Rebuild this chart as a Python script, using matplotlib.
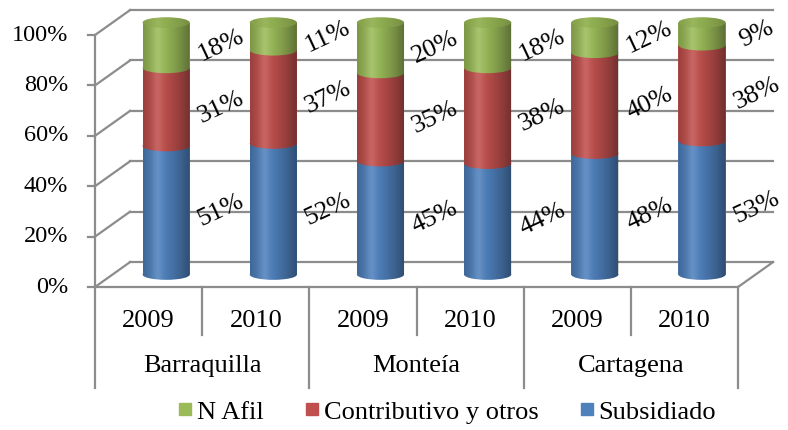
import matplotlib
matplotlib.use("Agg")
import matplotlib.pyplot as plt
import numpy as np
from matplotlib.patches import Ellipse, Rectangle, PathPatch
from matplotlib.path import Path
from matplotlib.lines import Line2D

plt.rcParams["font.family"] = ["Liberation Serif", "DejaVu Serif"]

# data
cities = ["Barraquilla", "Monteía", "Cartagena"]
years = ["2009", "2010", "2009", "2010", "2009", "2010"]
subsidiado = [51, 52, 45, 44, 48, 53]
contributivo = [31, 37, 35, 38, 40, 38]
n_afil = [18, 11, 20, 18, 12, 9]
series_names = ["Subsidiado", "Contributivo y otros", "N Afil"]
series_vals = [subsidiado, contributivo, n_afil]
series_colors = ["#4F81BD", "#C0504D", "#9BBB59"]
top_color = "#92B152"
yticks = [0, 20, 40, 60, 80, 100]

# 3D look: depth shift of the back wall (category units, percent units)
DX, DY = 0.327, 9.9
GRID = "#8C8C8C"
FS_TICK = 17.5
FS = 19

fig = plt.figure(figsize=(7.88, 4.30), dpi=100)
ax = fig.add_axes([0, 0, 1, 1])
ax.set_xlim(-0.8865, 6.466)
ax.set_ylim(-56.75, 113.9)
ax.axis("off")

n = len(years)

# walls: back gridlines, left wall diagonals, floor
for t in yticks:
    ax.plot([0, DX], [t, t + DY], color=GRID, lw=1.6, zorder=1)
    ax.plot([DX, n + DX], [t + DY, t + DY], color=GRID, lw=1.6, zorder=1)
    ax.plot([-0.07, 0], [t, t], color=GRID, lw=1.6, zorder=1)
    ax.text(-0.25, t, f"{t}%", ha="right", va="center", fontsize=FS_TICK)
ax.plot([0, 0], [0, 100], color=GRID, lw=1.6, zorder=1)
ax.plot([0, n], [0, 0], color=GRID, lw=1.6, zorder=1)
ax.plot([n, n + DX], [0, DY], color=GRID, lw=1.6, zorder=1)

# multi-level category axis
for i in range(n + 1):
    bottom = -40 if i % 2 == 0 else -19
    ax.plot([i, i], [0, bottom], color=GRID, lw=1.6, zorder=1)
for i, y in enumerate(years):
    ax.text(i + 0.5, -13.5, y, ha="center", va="center", fontsize=FS)
for j, c in enumerate(cities):
    ax.text(2 * j + 1, -31.5, c, ha="center", va="center", fontsize=FS)

# shading overlay for cylinders (dark right edge, light highlight left of centre)
g = np.linspace(0, 1, 200)
shade = np.zeros((1, len(g), 4))
dark = np.where(g < 0.3, 0.2 * (0.3 - g) / 0.3, 0.42 * ((g - 0.3) / 0.7) ** 1.5)
light = 0.12 * np.exp(-((g - 0.3) / 0.12) ** 2)
shade[0, :, :3] = (light / (light + dark + 1e-9))[:, None]
shade[0, :, 3] = np.clip(dark + light, 0, 1)

bw = 0.44
eh = 4.2
z = 2
theta = np.linspace(np.pi, 2 * np.pi, 40)
for i in range(n):
    xc = i + 0.5 + DX / 2
    xl = xc - bw / 2
    base = DY / 2
    cum = 0
    for s, vals in enumerate(series_vals):
        v = vals[i]
        b = cum + base
        ax.add_patch(Rectangle((xl, b), bw, v, facecolor=series_colors[s],
                               edgecolor="none", zorder=z))
        ax.add_patch(Ellipse((xc, b), bw, eh, facecolor=series_colors[s],
                             edgecolor="none", zorder=z + 0.1))
        ax.text(xc + 0.51, b + v / 2, f"{v}%", ha="center", va="center",
                rotation=25, fontsize=FS, zorder=50)
        cum += v
        z += 1
    top_y = cum + base
    # one clip outline for the whole cylinder body
    ex = xc + bw / 2 * np.cos(theta)
    ey = base + eh / 2 * np.sin(theta)
    verts = np.vstack([[xl, top_y], np.column_stack([ex, ey]), [xl + bw, top_y], [xl, top_y]])
    body = PathPatch(Path(verts, closed=True), facecolor="none", edgecolor="none")
    ax.add_patch(body)
    im = ax.imshow(shade, extent=[xl, xl + bw, -5, 120], aspect="auto",
                   interpolation="bilinear", zorder=z)
    im.set_clip_path(body)
    z += 1
    top = Ellipse((xc, top_y), bw, eh, facecolor=top_color, edgecolor="none", zorder=z)
    ax.add_patch(top)
    im = ax.imshow(shade * [1, 1, 1, 0.5], extent=[xl, xl + bw, -5, 120], aspect="auto",
                   interpolation="bilinear", zorder=z + 0.5)
    im.set_clip_path(top)
    z += 1

# legend
handles = [Line2D([], [], marker="s", ls="none", markersize=9, color=series_colors[s],
                  label=series_names[s]) for s in (2, 1, 0)]
fig.legend(handles=handles, loc="center", bbox_to_anchor=(0.568, 0.042), ncol=3,
           frameon=False, fontsize=FS, handlelength=0.5, handletextpad=0.18,
           columnspacing=1.6)

fig.savefig("out.png", dpi=100)
